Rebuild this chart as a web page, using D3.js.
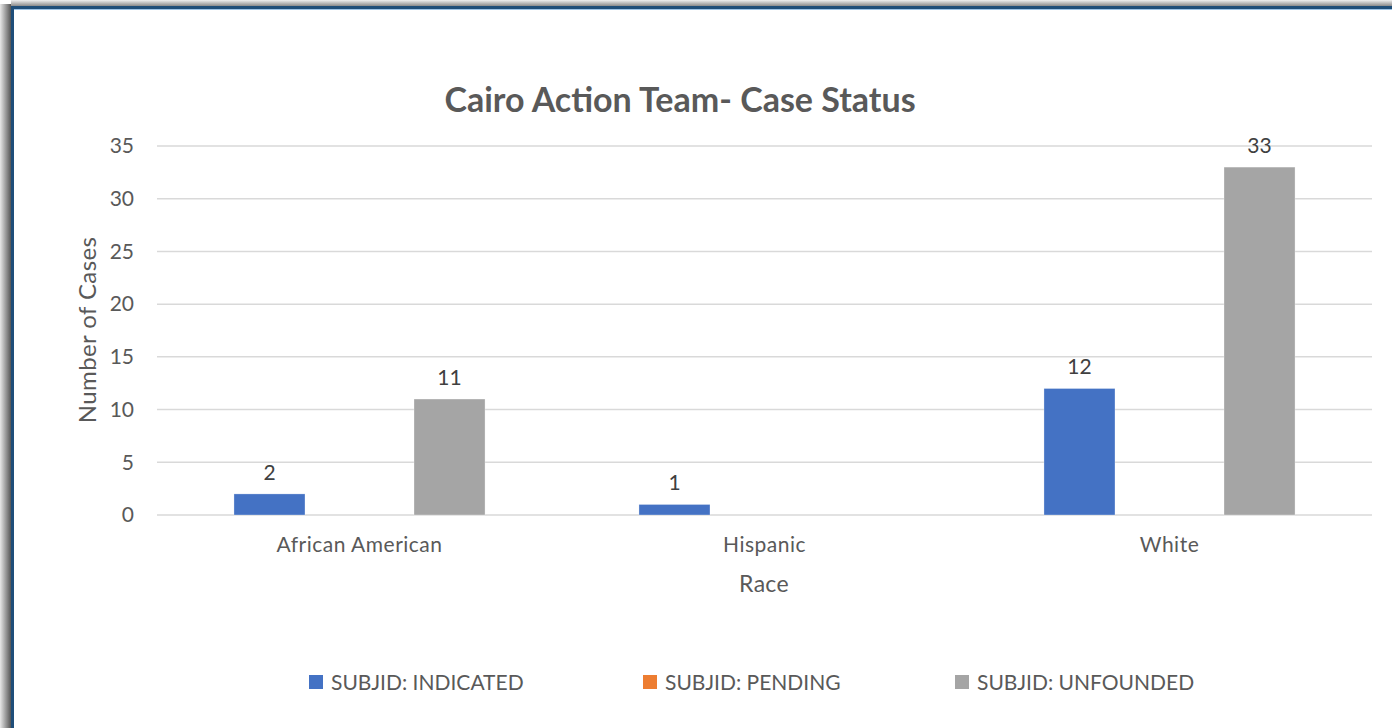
<!DOCTYPE html>
<html>
<head>
<meta charset="utf-8">
<script src="https://cdn.jsdelivr.net/npm/d3@7"></script>
<style>
  html, body { margin: 0; padding: 0; background: #fff; }
  svg { display: block; font-family: Lato, "Open Sans", sans-serif; }
</style>
</head>
<body>
<svg id="chart"></svg>
<script>
const width = 1392, height = 728;

// data
const races = ["African American", "Hispanic", "White"];
const seriesNames = ["SUBJID: INDICATED", "SUBJID: PENDING", "SUBJID: UNFOUNDED"];
const indicated = [2, 1, 12];
const pending = [null, null, null];
const unfounded = [11, null, 33];
const yTicks = [0, 5, 10, 15, 20, 25, 30, 35];

const colors = ["#4472c4", "#ed7d31", "#a5a5a5"];
const allSeries = [indicated, pending, unfounded];

const svg = d3.select("#chart").attr("width", width).attr("height", height);

// frame: shadow + dark blue border, top and left
const defs = svg.append("defs");
const gl = defs.append("linearGradient").attr("id", "shadowL").attr("x1", 0).attr("x2", 1).attr("y1", 0).attr("y2", 0);
gl.append("stop").attr("offset", 0).attr("stop-color", "#e8e8e8");
gl.append("stop").attr("offset", 1).attr("stop-color", "#555");
const gt = defs.append("linearGradient").attr("id", "shadowT").attr("x1", 0).attr("x2", 0).attr("y1", 0).attr("y2", 1);
gt.append("stop").attr("offset", 0).attr("stop-color", "#f0f0f0");
gt.append("stop").attr("offset", 1).attr("stop-color", "#8a8a8a");

svg.append("rect").attr("x", 0).attr("y", 4).attr("width", 11).attr("height", height).attr("fill", "url(#shadowL)");
svg.append("rect").attr("x", 11).attr("y", 0).attr("width", width).attr("height", 6).attr("fill", "url(#shadowT)");
svg.append("rect").attr("x", 11).attr("y", 6).attr("width", 3).attr("height", height).attr("fill", "#1f4e79");
svg.append("rect").attr("x", 11).attr("y", 6).attr("width", width).attr("height", 3).attr("fill", "#1f4e79");
svg.append("rect").attr("x", 14).attr("y", 9).attr("width", width).attr("height", 1).attr("fill", "#9dc3e6");

// scales
const x0 = d3.scaleBand().domain(races).range([157, 1372]).padding(0);
const x1 = d3.scaleBand().domain(d3.range(seriesNames.length))
  .range([0, x0.bandwidth()]).paddingInner(0.211).paddingOuter(0.855);
const y = d3.scaleLinear().domain([0, 35]).range([515, 146]);

// gridlines
svg.append("g").selectAll("line").data(yTicks).join("line")
  .attr("x1", 157).attr("x2", 1372)
  .attr("y1", d => y(d)).attr("y2", d => y(d))
  .attr("stroke", "#d9d9d9").attr("stroke-width", 1.5);

// y axis labels
const yAxis = svg.append("g").attr("transform", "translate(140,0)")
  .call(d3.axisLeft(y).tickValues(yTicks).tickSize(0).tickPadding(6));
yAxis.select(".domain").remove();
yAxis.selectAll("text").attr("font-size", 21).attr("fill", "#595959").attr("font-family", "Lato, sans-serif");

// x axis labels
const xAxis = svg.append("g").attr("transform", "translate(0,530)")
  .call(d3.axisBottom(x0).tickSize(0).tickPadding(0));
xAxis.select(".domain").remove();
xAxis.selectAll("text").attr("font-size", 21).attr("fill", "#595959").attr("font-family", "Lato, sans-serif")
  .attr("letter-spacing", 0.5).attr("dy", "1.07em");

// bars
const rows = [];
races.forEach((r, i) => allSeries.forEach((s, j) => {
  if (s[i] != null) rows.push({ race: r, si: j, value: s[i] });
}));

svg.append("g").selectAll("rect").data(rows).join("rect")
  .attr("x", d => x0(d.race) + x1(d.si))
  .attr("width", x1.bandwidth())
  .attr("y", d => y(d.value))
  .attr("height", d => y(0) - y(d.value))
  .attr("fill", d => colors[d.si])
  .attr("stroke", "#fff").attr("stroke-width", 0.6).attr("stroke-opacity", 0.5);

// data labels
svg.append("g").selectAll("text").data(rows).join("text")
  .attr("x", d => x0(d.race) + x1(d.si) + x1.bandwidth() / 2)
  .attr("y", d => y(d.value) - 14)
  .attr("text-anchor", "middle")
  .attr("font-size", 21).attr("fill", "#404040")
  .text(d => d.value);

// title
svg.append("text").attr("x", 680).attr("y", 112).attr("text-anchor", "middle")
  .attr("font-size", 34).attr("font-weight", "bold").attr("fill", "#595959")
  .text("Cairo Action Team- Case Status");

// axis titles
svg.append("text").attr("x", 764).attr("y", 592).attr("text-anchor", "middle")
  .attr("font-size", 23).attr("fill", "#595959").attr("letter-spacing", 0.3).text("Race");
svg.append("text").attr("transform", "translate(96,330) rotate(-90)").attr("text-anchor", "middle")
  .attr("font-size", 24).attr("fill", "#595959").attr("letter-spacing", 0.4).text("Number of Cases");

// legend
const legendX = [309, 643, 955];
const legend = svg.append("g").selectAll("g").data(seriesNames).join("g")
  .attr("transform", (d, i) => `translate(${legendX[i]},675)`);
legend.append("rect").attr("width", 14).attr("height", 14).attr("fill", (d, i) => colors[i]);
legend.append("text").attr("x", 22).attr("y", 15).attr("font-size", 21).attr("fill", "#595959")
  .text(d => d);
</script>
</body>
</html>
